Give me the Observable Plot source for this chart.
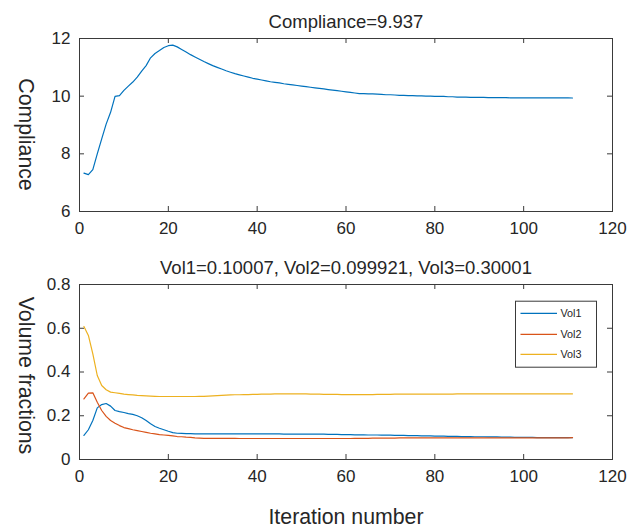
<!DOCTYPE html>
<html><head><meta charset="utf-8">
<script src="https://cdn.jsdelivr.net/npm/d3@7"></script>
<script src="https://cdn.jsdelivr.net/npm/@observablehq/plot@0.6"></script>
<style>
body{margin:0;background:#fff;}
#chart{width:639px;height:528px;position:relative;overflow:hidden;}
#chart svg{display:block;}
</style>
</head><body><div id="chart"></div>
<script>
// ---------------- data ----------------
const compliance = [
7.33,7.28,7.45,8.00,8.52,9.03,9.44,9.99,10.02,10.20,
10.35,10.49,10.66,10.87,11.06,11.33,11.48,11.58,11.69,11.75,
11.77,11.71,11.62,11.53,11.44,11.36,11.28,11.20,11.13,11.06,
11.00,10.94,10.88,10.83,10.78,10.74,10.70,10.66,10.62,10.59,
10.56,10.53,10.50,10.48,10.46,10.43,10.41,10.39,10.37,10.35,
10.33,10.31,10.29,10.27,10.25,10.23,10.21,10.19,10.17,10.15,
10.13,10.11,10.09,10.09,10.08,10.08,10.07,10.06,10.05,10.05,
10.04,10.03,10.03,10.02,10.02,10.01,10.01,10.00,10.00,9.99,
9.99,9.99,9.98,9.98,9.97,9.97,9.97,9.96,9.96,9.96,
9.96,9.95,9.95,9.95,9.95,9.95,9.94,9.94,9.94,9.94,
9.94,9.94,9.94,9.94,9.94,9.94,9.94,9.94,9.94,9.94,
9.937];
const vol1 = [
0.110,0.136,0.178,0.236,0.251,0.256,0.244,0.224,0.219,0.215,
0.210,0.206,0.200,0.191,0.178,0.163,0.151,0.143,0.136,0.129,
0.123,0.120,0.119,0.118,0.118,0.117,0.117,0.117,0.117,0.117,
0.117,0.117,0.117,0.117,0.117,0.117,0.117,0.117,0.117,0.117,
0.117,0.117,0.117,0.117,0.117,0.116,0.116,0.116,0.116,0.116,
0.116,0.116,0.116,0.116,0.116,0.115,0.115,0.115,0.114,0.114,
0.114,0.113,0.113,0.113,0.112,0.112,0.112,0.111,0.111,0.111,
0.110,0.110,0.110,0.109,0.109,0.109,0.108,0.108,0.108,0.107,
0.107,0.107,0.106,0.106,0.106,0.105,0.105,0.105,0.104,0.104,
0.104,0.103,0.103,0.103,0.102,0.102,0.102,0.101,0.101,0.101,
0.101,0.101,0.100,0.100,0.100,0.100,0.100,0.100,0.100,0.100,
0.10007];
const vol2 = [
0.277,0.303,0.305,0.262,0.224,0.197,0.178,0.166,0.155,0.146,
0.141,0.136,0.132,0.128,0.124,0.120,0.117,0.114,0.112,0.110,
0.108,0.105,0.104,0.102,0.101,0.099,0.098,0.097,0.097,0.097,
0.097,0.097,0.097,0.097,0.097,0.096,0.096,0.096,0.096,0.096,
0.096,0.096,0.096,0.096,0.096,0.096,0.096,0.096,0.096,0.096,
0.096,0.096,0.096,0.096,0.096,0.096,0.096,0.096,0.096,0.096,
0.096,0.097,0.097,0.097,0.097,0.098,0.098,0.098,0.098,0.098,
0.098,0.099,0.099,0.099,0.099,0.099,0.099,0.099,0.099,0.099,
0.099,0.099,0.099,0.099,0.099,0.099,0.099,0.099,0.099,0.099,
0.099,0.099,0.099,0.099,0.099,0.099,0.099,0.099,0.099,0.099,
0.099,0.099,0.099,0.099,0.099,0.099,0.099,0.099,0.099,0.099,
0.099921];
const vol3 = [
0.608,0.567,0.483,0.384,0.338,0.319,0.308,0.305,0.302,0.299,
0.297,0.295,0.293,0.292,0.291,0.290,0.289,0.288,0.288,0.288,
0.288,0.288,0.288,0.288,0.288,0.288,0.289,0.289,0.290,0.291,
0.292,0.293,0.294,0.295,0.296,0.296,0.297,0.297,0.298,0.298,
0.299,0.299,0.299,0.300,0.300,0.300,0.300,0.300,0.300,0.300,
0.300,0.299,0.299,0.299,0.298,0.298,0.298,0.298,0.297,0.297,
0.297,0.297,0.297,0.297,0.297,0.297,0.298,0.298,0.298,0.298,
0.299,0.299,0.299,0.299,0.299,0.299,0.299,0.299,0.299,0.299,
0.299,0.299,0.299,0.299,0.300,0.300,0.300,0.300,0.300,0.300,
0.300,0.300,0.300,0.300,0.300,0.300,0.300,0.300,0.300,0.300,
0.300,0.300,0.300,0.300,0.300,0.300,0.300,0.300,0.300,0.300,
0.30001];
const seriesNames = ["Vol1", "Vol2", "Vol3"];
const seriesColors = ["#0072BD", "#D95319", "#EDB120"];
const xTicks = [0, 20, 40, 60, 80, 100, 120];
const complianceTicks = [6, 8, 10, 12];
const volTicks = [0, 0.2, 0.4, 0.6, 0.8];
const titleTop = "Compliance=9.937";
const titleBottom = "Vol1=0.10007, Vol2=0.099921, Vol3=0.30001";
const yLabelTop = "Compliance";
const yLabelBottom = "Volume fractions";
const xLabel = "Iteration number";

// ---------------- tables ----------------
const complianceRows = compliance.map((v, i) => ({iter: i + 1, value: v}));
const volRows = [vol1, vol2, vol3].flatMap((arr, s) =>
  arr.map((v, i) => ({iter: i + 1, value: v, series: seriesNames[s]})));

// ---------------- style ----------------
const FONT = '"Liberation Sans", Arial, Helvetica, sans-serif';
const AX = "#3a3a3a";
const TXT = "#262626";
const W = 639, ML = 79, MR = 27;
const FW = W - ML - MR;

function panel({height, mt, mb, yDomain, yTicks, marks}) {
  const FH = height - mt - mb;
  return Plot.plot({
    width: W, height,
    marginLeft: ML, marginRight: MR, marginTop: mt, marginBottom: mb,
    style: {fontFamily: FONT, color: TXT, background: "white", overflow: "visible"},
    x: {domain: [0, 120]},
    y: {domain: yDomain},
    color: {domain: seriesNames, range: seriesColors},
    marks: [
      Plot.frame({stroke: AX, strokeWidth: 1}),
      Plot.tickX(xTicks, {x: d => d, insetTop: FH - 5, stroke: AX}),
      Plot.tickX(xTicks, {x: d => d, insetBottom: FH - 5, stroke: AX}),
      Plot.tickY(yTicks, {y: d => d, insetRight: FW - 5, stroke: AX}),
      Plot.tickY(yTicks, {y: d => d, insetLeft: FW - 5, stroke: AX}),
      Plot.axisX({ticks: xTicks, tickSize: 0, tickPadding: 10, fontSize: 17, label: null, tickFormat: d => String(d)}),
      Plot.axisY({ticks: yTicks, tickSize: 0, tickPadding: 9, fontSize: 17, label: null, tickFormat: d => String(d)}),
      ...marks
    ]
  });
}

const topPlot = panel({
  height: 248, mt: 38, mb: 37, yDomain: [6, 12], yTicks: complianceTicks,
  marks: [
    Plot.line(complianceRows, {x: "iter", y: "value", stroke: seriesColors[0], strokeWidth: 1.2}),
    Plot.text([titleTop], {text: d => d, frameAnchor: "top", lineAnchor: "bottom", dy: -11, fontSize: 18.5, fill: TXT}),
    Plot.text([yLabelTop], {text: d => d, frameAnchor: "left", textAnchor: "middle", lineAnchor: "bottom", rotate: 90, dx: -61, dy: 9.5, fontSize: 21.3, fill: TXT})
  ]
});

const bottomPlot = panel({
  height: 280, mt: 36, mb: 69, yDomain: [0, 0.8], yTicks: volTicks,
  marks: [
    Plot.line(volRows, {x: "iter", y: "value", z: "series", stroke: "series", strokeWidth: 1.2}),
    Plot.text([titleBottom], {text: d => d, frameAnchor: "top", lineAnchor: "bottom", dy: -11, fontSize: 18.5, fill: TXT}),
    Plot.text([yLabelBottom], {text: d => d, frameAnchor: "left", textAnchor: "middle", lineAnchor: "bottom", rotate: 90, dx: -61, dy: 3.5, fontSize: 21.3, fill: TXT}),
    Plot.text([xLabel], {text: d => d, frameAnchor: "bottom", lineAnchor: "bottom", dy: 64.5, fontSize: 21.3, fill: TXT})
  ]
});

const chart = document.getElementById("chart");
chart.appendChild(topPlot);
chart.appendChild(bottomPlot);

// ---------------- legend (MATLAB style box, upper right inside axes) ----------------
{
  const svg = d3.select(bottomPlot);
  const lx = ML + FW - 16 - 81, ly = 36 + 16.7, lw = 81, lh = 66;
  const g = svg.append("g").attr("transform", `translate(${lx},${ly})`);
  g.append("rect").attr("x", 0.5).attr("y", 0.5).attr("width", lw).attr("height", lh)
    .attr("fill", "white").attr("stroke", AX).attr("stroke-width", 1);
  const rowsY = [12.6, 33.6, 53.6];
  seriesNames.forEach((name, i) => {
    g.append("line").attr("x1", 5.5).attr("x2", 42).attr("y1", rowsY[i]).attr("y2", rowsY[i])
      .attr("stroke", seriesColors[i]).attr("stroke-width", 1.2);
    g.append("text").attr("x", 45.5).attr("y", rowsY[i]).attr("dy", "0.35em")
      .attr("text-anchor", "start")
      .attr("font-family", FONT).attr("font-size", 10.8).attr("fill", TXT).text(name);
  });
}
</script>
</body></html>
